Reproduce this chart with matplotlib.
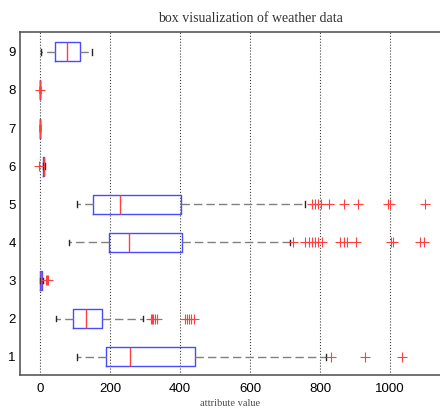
import matplotlib
matplotlib.use("Agg")
from matplotlib import pyplot as plt
import numpy as np

# attribute index on the y axis
attributes = [1, 2, 3, 4, 5, 6, 7, 8, 9]

# five-number summaries
whisker_low = [106, 46, 0, 84, 105, 9, 0, 0, 3]
q1 = [189, 94, 0, 197, 152, 9, 0, 0, 42]
median = [257, 131, 3, 255, 228, 11, 0, 0, 76]
q3 = [443, 178, 7, 406, 403, 12, 0, 0, 114]
whisker_high = [817, 293, 8, 713, 757, 14, 0, 0, 148]

outliers = [
    [831, 930, 1033],
    [316, 320, 324, 329, 333, 414, 420, 426, 432, 440],
    [16, 20, 24],
    [723, 758, 768, 776, 785, 795, 805, 856, 868, 876, 902, 1004, 1008, 1085, 1096],
    [778, 785, 793, 802, 825, 869, 909, 993, 999, 1100],
    [-2],
    [],
    [0],
    [],
]

xticks = [0, 200, 400, 600, 800, 1000]

stats = []
for i in range(len(attributes)):
    stats.append({
        "whislo": whisker_low[i], "q1": q1[i], "med": median[i],
        "q3": q3[i], "whishi": whisker_high[i], "fliers": outliers[i],
    })

fig = plt.figure(figsize=(4.4, 4.08), dpi=100)
ax = fig.add_axes([20 / 440, 1 - 375 / 408, 420 / 440, (375 - 32) / 408])

ax.bxp(stats, positions=attributes, vert=False, widths=0.5, capwidths=0.15,
       boxprops=dict(color="#4a4aff", linewidth=1.0),
       medianprops=dict(color="#ff4040", linewidth=1.0),
       whiskerprops=dict(color="0.5", linewidth=1.0, linestyle=(0, (6, 3))),
       capprops=dict(color="0.15", linewidth=1.0),
       flierprops=dict(marker="+", markeredgecolor="#ff4040", markersize=7,
                       markeredgewidth=0.8, linestyle="none"))

ax.set_xlim(-57, 1143)
ax.set_ylim(0.52, 9.52)
ax.set_xticks(xticks)
ax.set_yticks(attributes)
ax.set_yticklabels([str(a) for a in attributes])
ax.xaxis.grid(True, linestyle=":", color="0.25", linewidth=0.8)
ax.set_axisbelow(True)

for lab in ax.get_xticklabels() + ax.get_yticklabels():
    lab.set_fontfamily("Liberation Sans")
    lab.set_fontsize(9.5)
ax.tick_params(axis="x", direction="in", length=0, pad=6)
ax.tick_params(axis="y", direction="in", length=0, pad=3)

ax.spines["right"].set_visible(False)
for s in ["left", "bottom", "top"]:
    ax.spines[s].set_color("0.35")
    ax.spines[s].set_linewidth(1.2)

ax.set_xlabel("attribute value", fontfamily="Liberation Serif", fontsize=7.5,
              color="0.3", labelpad=3)
fig.text(250 / 440, 1 - 18 / 408, "box visualization of weather data",
         fontfamily="Liberation Serif", fontsize=10, color="0.2",
         ha="center", va="center")

plt.savefig("out.png", dpi=100)
